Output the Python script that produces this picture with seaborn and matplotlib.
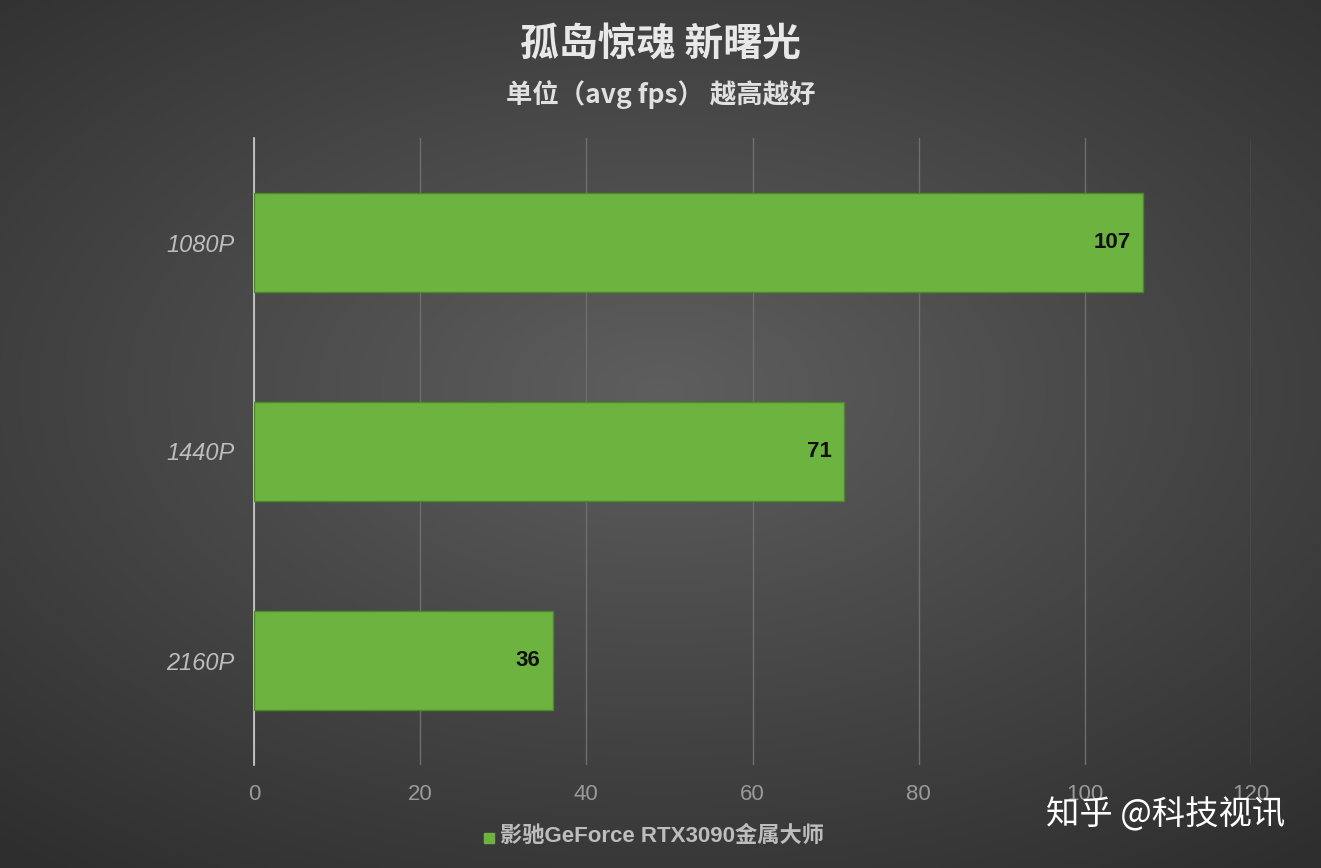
import numpy as np
import pandas as pd
import seaborn as sns
import matplotlib.pyplot as plt

plt.rcParams["font.family"] = ["Liberation Sans", "Noto Sans CJK SC"]

resolutions = ["1080P", "1440P", "2160P"]
fps_values = [107, 71, 36]
series_name = "影驰GeForce RTX3090金属大师"
x_ticks = [0, 20, 40, 60, 80, 100, 120]

df = pd.DataFrame({"res": resolutions, "fps": fps_values})

fig = plt.figure(figsize=(13.21, 8.68), dpi=100)

# radial background gradient
bg = fig.add_axes([0, 0, 1, 1], zorder=-10)
yy, xx = np.mgrid[-1:1:400j, -1:1:600j]
r = np.sqrt((xx * 0.9) ** 2 + ((yy + 0.1) * 1.0) ** 2)
bg.imshow(np.clip(r, 0, 1.4), cmap=sns.blend_palette(["#5e5e5e", "#2e2e2e"], as_cmap=True),
          aspect="auto", extent=[0, 1, 0, 1], vmin=0, vmax=1.4)
bg.axis("off")

ax = fig.add_axes([254 / 1321, 1 - 765 / 868, 997 / 1321, 627 / 868])
ax.patch.set_alpha(0)
sns.barplot(data=df, y="res", x="fps", orient="h", color="#6db33f", width=0.47,
            saturation=1, ax=ax, zorder=3)
for bar in ax.patches:
    bar.set_edgecolor("#4a8a2a")
    bar.set_linewidth(1)
for bar, v in zip(ax.patches, fps_values):
    ax.text(bar.get_width() - 1.5, bar.get_y() + bar.get_height() / 2, str(v),
            ha="right", va="center", fontsize=16, fontweight="bold", color="#111111", zorder=4)

ax.set_xlim(0, 120)
ax.set_xticks(x_ticks)
ax.set_xticklabels([str(t) for t in x_ticks], fontsize=16, color="#9a9a9a")
ax.set_yticklabels(resolutions, fontsize=17, color="#bdbdbd", style="italic")
ax.tick_params(length=0, pad=14)
ax.set_xlabel("")
ax.set_ylabel("")
ax.grid(axis="x", color="#6e6e6e", linewidth=1, zorder=0)
ax.grid(axis="y", visible=False)
for s in ["top", "right", "bottom"]:
    ax.spines[s].set_visible(False)
ax.spines["left"].set_color("#d0d0d0")
ax.spines["left"].set_linewidth(1.2)

fig.text(0.5, 1 - 45 / 868, "孤岛惊魂 新曙光", ha="center", va="center",
         fontsize=28, fontweight="bold", color="#e8e8e8", family="Noto Sans CJK SC")
fig.text(0.5, 1 - 95 / 868, "单位（avg fps） 越高越好", ha="center", va="center",
         fontsize=19, fontweight="bold", color="#e0e0e0", family="Noto Sans CJK SC")

fig.patches.append(plt.Rectangle((484 / 1321, 1 - 843 / 868), 10 / 1321, 10 / 868,
                                 transform=fig.transFigure, color="#6db33f"))
fig.text(500 / 1321, 1 - 836 / 868, series_name, ha="left", va="center",
         fontsize=16, fontweight="bold", color="#bdbdbd")
fig.text(1285 / 1321, 1 - 815 / 868, "知乎 @科技视讯", ha="right", va="center",
         fontsize=24, color="#ffffff", family="Noto Sans CJK SC")

fig.savefig("out.png", dpi=100)
